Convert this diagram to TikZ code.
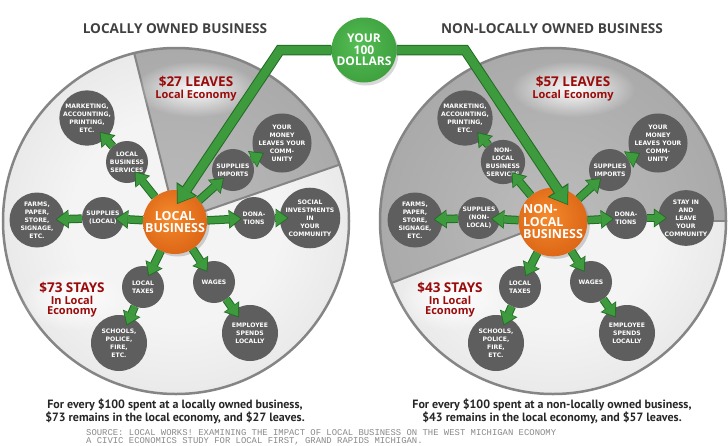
\documentclass[tikz,border=0pt]{standalone}
\usepackage{fontspec}
\setmainfont{Open Sans}
\newfontfamily\capfont{PT Sans}
\newfontfamily\pixfont{DejaVu Sans}
\newfontfamily\srcfont{Liberation Mono}
\usetikzlibrary{arrows.meta,shadows,fadings}
\definecolor{titlegray}{HTML}{404040}
\definecolor{redtxt}{HTML}{9A0B0B}
\definecolor{nodegray}{HTML}{5E5E5E}
\definecolor{gdark}{HTML}{236B26}
\definecolor{gmid}{HTML}{3D9B3D}
\definecolor{lc1}{HTML}{F4F4F4}
\definecolor{lc2}{HTML}{D0D0D0}
\definecolor{dc1}{HTML}{BCBCBC}
\definecolor{dc2}{HTML}{989898}
\definecolor{or1}{HTML}{F58A2C}
\definecolor{or2}{HTML}{C94A05}
\definecolor{gr1}{HTML}{55BE55}
\definecolor{gr2}{HTML}{2C8A2C}
\definecolor{rimgray}{HTML}{858585}
\definecolor{srcgray}{HTML}{8A8A8A}
\pgfdeclareradialshading{lightdisc}{\pgfpoint{0bp}{0bp}}{color(0bp)=(lc1); color(15bp)=(lc1); color(50bp)=(lc2)}
\pgfdeclareradialshading{darkdisc}{\pgfpoint{0bp}{0bp}}{color(0bp)=(dc1); color(50bp)=(dc2)}
\pgfdeclareradialshading{orangeball}{\pgfpoint{-5bp}{5bp}}{color(0bp)=(or1); color(50bp)=(or2)}
\pgfdeclareradialshading{greenball}{\pgfpoint{-5bp}{5bp}}{color(0bp)=(gr1); color(50bp)=(gr2)}
\tikzfading[name=glowfade, inner color=transparent!0, outer color=transparent!100]
\newcommand\nodetxt{\pixfont\bfseries\fontsize{6.1}{7.9}\selectfont}
\newcommand\garr[2]{\draw[arrout] (#1) -- (#2); \draw[arrin] (#1) -- (#2);}
\begin{document}
\begin{tikzpicture}[x=1pt,y=-1pt,
  every node/.style={inner sep=0pt},
  gsmall/.style={circle, fill=nodegray, text=white, font=\nodetxt, align=center, minimum size=42pt},
  gbig/.style={gsmall, minimum size=55pt},
  orangenode/.style={circle, shade, shading=orangeball, minimum size=64pt, text=white,
     font=\bfseries\fontsize{12.5}{12.5}\selectfont,
     drop shadow={shadow xshift=2.5pt, shadow yshift=-2.5pt, opacity=0.35}},
  greennode/.style={circle, shade, shading=greenball, minimum size=65pt, text=white, align=center,
     font=\bfseries\fontsize{12}{11.5}\selectfont,
     drop shadow={shadow xshift=2pt, shadow yshift=-3pt, opacity=0.3}},
  titletxt/.style={text=titlegray, font=\bfseries\fontsize{13.6}{15}\selectfont},
  redbig/.style={text=redtxt, font=\bfseries\fontsize{13.5}{15}\selectfont},
  redsmall/.style={text=redtxt, font=\bfseries\fontsize{11}{12}\selectfont},
  captxt/.style={text=black!85, font=\capfont\bfseries\fontsize{12}{13}\selectfont},
  srctxt/.style={text=srcgray, font=\srcfont\fontsize{8.9}{8}\selectfont, anchor=west, align=left},
  wedgeline/.style={draw=rimgray, line width=2pt},
  rim/.style={draw=rimgray, line width=2.5pt},
  arrout/.style={draw=gdark, line width=8.5pt, -{Triangle[length=13pt,width=19pt,line width=0pt]}, shorten >=-9pt},
  arrin/.style={draw=gmid, line width=6.5pt, -{Triangle[length=11pt,width=16pt,line width=0pt]}, shorten >=-7.6pt},
  mainout/.style={draw=gdark, line width=10.5pt, -{Triangle[length=18pt,width=25pt,line width=0pt]}},
  mainin/.style={draw=gmid, line width=8.5pt, -{Triangle[length=15.5pt,width=21.5pt,line width=0pt]}, shorten >=1.3pt}
]
\fill[white] (0,0) rectangle (728,445);
\useasboundingbox (0,0) rectangle (728,445);

% left disc
\shade[shading=lightdisc] (176,221) circle (173);
\begin{scope}
  \clip (176,221) -- ++(-19:173) arc[start angle=-19, end angle=-104, radius=173] -- cycle;
  \shade[shading=darkdisc] (176,221) circle (173);
\end{scope}
\draw[wedgeline] (176,221) -- ++(-19:173);
\draw[wedgeline] (176,221) -- ++(-104:173);
\draw[rim] (176,221) circle (173);

% right disc
\shade[shading=darkdisc] (553,221) circle (173);
\begin{scope}
  \clip (553,221) -- ++(0:173) arc[start angle=0, end angle=159, radius=173] -- cycle;
  \shade[shading=lightdisc] (553,221) circle (173);
\end{scope}
\draw[wedgeline] (553,221) -- ++(0:173);
\draw[wedgeline] (553,221) -- ++(159:173);
\draw[rim] (553,221) circle (173);

% glows
\fill[white, path fading=glowfade] (196,89) ellipse [x radius=62, y radius=28];
\fill[white, path fading=glowfade] (573,89) ellipse [x radius=62, y radius=28];
\fill[white, path fading=glowfade] (72,299) ellipse [x radius=52, y radius=32];
\fill[white, path fading=glowfade] (450,299) ellipse [x radius=52, y radius=32];

% titles
\node[titletxt] (t1) at (175,29) {LOCALLY OWNED BUSINESS};
\node[titletxt] (t2) at (552,29) {NON-LOCALLY OWNED BUSINESS};

% red labels
\node[redbig] (l27) at (196,82) {\$27 LEAVES};
\node[redsmall] (l27b) at (196,96) {Local Economy};
\node[redbig] (l57) at (573,82) {\$57 LEAVES};
\node[redsmall] (l57b) at (573,96) {Local Economy};
\node[redbig] (s73) at (72,288) {\$73 STAYS};
\node[redsmall] (s73b) at (72,300) {In Local};
\node[redsmall] (s73c) at (72,312) {Economy};
\node[redbig] (s43) at (450,288) {\$43 STAYS};
\node[redsmall] (s43b) at (450,300) {In Local};
\node[redsmall] (s43c) at (450,312) {Economy};

% left nodes
\node[gbig] (mk) at (87,118) {MARKETING,\\ACCOUNTING,\\PRINTING,\\ETC.};
\node[gsmall] (bs) at (127,162) {LOCAL\\BUSINESS\\SERVICES};
\node[gsmall] (si) at (233,170) {SUPPLIES\\IMPORTS};
\node[gbig] (ym) at (282,143) {YOUR\\MONEY\\LEAVES YOUR\\COMM-\\UNITY};
\node[gbig] (fa) at (37,220) {FARMS,\\PAPER,\\STORE,\\SIGNAGE,\\ETC.};
\node[gsmall] (sl) at (103,218) {SUPPLIES\\(LOCAL)};
\node[gsmall] (dn) at (254,218) {DONA-\\TIONS};
\node[gbig] (sc) at (310,218) {SOCIAL\\INVESTMENTS\\IN\\YOUR\\COMMUNITY};
\node[gsmall] (tx) at (143,287) {LOCAL\\TAXES};
\node[gbig, minimum size=56pt] (sh) at (119,343) {SCHOOLS,\\POLICE,\\FIRE,\\ETC.};
\node[gsmall] (wg) at (214,282) {WAGES};
\node[gbig, minimum size=56pt] (em) at (250,333) {EMPLOYEE\\SPENDS\\LOCALLY};

% right nodes
\node[gbig] (mk2) at (465,118) {MARKETING,\\ACCOUNTING,\\PRINTING,\\ETC.};
\node[gsmall] (bs2) at (503,162) {NON-\\LOCAL\\BUSINESS\\SERVICES};
\node[gsmall] (si2) at (610,170) {SUPPLIES\\IMPORTS};
\node[gbig] (ym2) at (658,143) {YOUR\\MONEY\\LEAVES YOUR\\COMM-\\UNITY};
\node[gbig] (fa2) at (415,220) {FARMS,\\PAPER,\\STORE,\\SIGNAGE,\\ETC.};
\node[gsmall] (sl2) at (479,218) {SUPPLIES\\(NON-\\LOCAL)};
\node[gsmall] (dn2) at (626,218) {DONA-\\TIONS};
\node[gbig] (sc2) at (686,218) {STAY IN\\AND\\LEAVE\\YOUR\\COMMUNITY};
\node[gsmall] (tx2) at (520,287) {LOCAL\\TAXES};
\node[gbig, minimum size=56pt] (sh2) at (496,343) {SCHOOLS,\\POLICE,\\FIRE,\\ETC.};
\node[gsmall] (wg2) at (591,282) {WAGES};
\node[gbig, minimum size=56pt] (em2) at (627,333) {EMPLOYEE\\SPENDS\\LOCALLY};

% centre nodes
\node[orangenode, align=center] (lb) at (175,222) {LOCAL\\BUSINESS};
\node[orangenode, align=left] (lb2) at (553,222) {NON-\\LOCAL\\BUSINESS};
\node[greennode] (yd) at (364,50) {YOUR\\100\\DOLLARS};

% small arrows left
\garr{lb}{bs}
\garr{bs}{mk}
\garr{lb}{si}
\garr{si}{ym}
\garr{lb}{sl}
\garr{sl}{fa}
\garr{lb}{dn}
\garr{dn}{sc}
\garr{lb}{tx}
\garr{tx}{sh}
\garr{lb}{wg}
\garr{wg}{em}
% small arrows right
\garr{lb2}{bs2}
\garr{bs2}{mk2}
\garr{lb2}{si2}
\garr{si2}{ym2}
\garr{lb2}{sl2}
\garr{sl2}{fa2}
\garr{lb2}{dn2}
\garr{dn2}{sc2}
\garr{lb2}{tx2}
\garr{tx2}{sh2}
\garr{lb2}{wg2}
\garr{wg2}{em2}

% main money path
\coordinate (cornerL) at (280,50);
\coordinate (tipL) at (177,204);
\coordinate (cornerR) at (465,50);
\coordinate (tipR) at (568,205);
\draw[mainout] (yd.west) -- (cornerL) -- (tipL);
\draw[mainin] (yd.west) -- (cornerL) -- (tipL);
\draw[mainout] (yd.east) -- (cornerR) -- (tipR);
\draw[mainin] (yd.east) -- (cornerR) -- (tipR);

% captions
\node[captxt] (c1a) at (175,405) {For every \$100 spent at a locally owned business,};
\node[captxt] (c1b) at (175,418) {\$73 remains in the local economy, and \$27 leaves.};
\node[captxt] (c2a) at (552,405) {For every \$100 spent at a non-locally owned business,};
\node[captxt] (c2b) at (552,418) {\$43 remains in the local economy, and \$57 leaves.};

% source
\node[srctxt] (src) at (86,437) {SOURCE: LOCAL WORKS! EXAMINING THE IMPACT OF LOCAL BUSINESS ON THE WEST MICHIGAN ECONOMY\\A CIVIC ECONOMICS STUDY FOR LOCAL FIRST, GRAND RAPIDS MICHIGAN.};
\end{tikzpicture}
\end{document}
